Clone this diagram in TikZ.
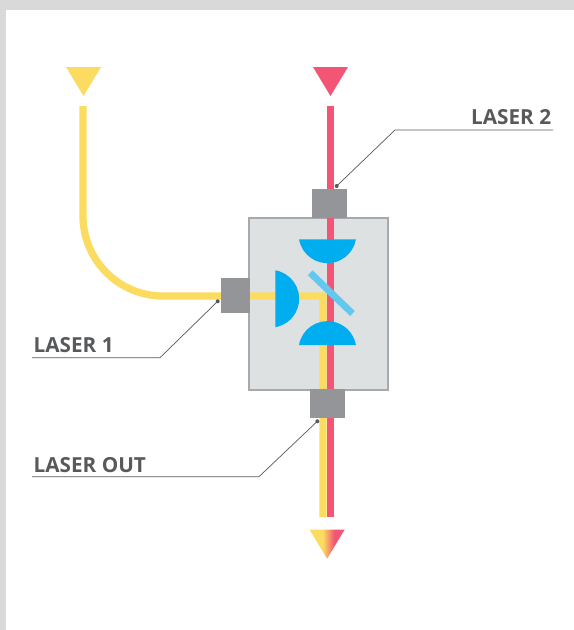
\documentclass[tikz,border=0pt]{standalone}
\usepackage{fontspec}
\setmainfont{Open Sans}
\usepackage{xcolor}
\usetikzlibrary{positioning, calc}

\definecolor{lasergold}{HTML}{FBDC60}
\definecolor{laserred}{HTML}{F25674}
\definecolor{lensblue}{HTML}{00AEEF}
\definecolor{mirrorblue}{HTML}{62C8EE}
\definecolor{portgray}{HTML}{939598}
\definecolor{boxgray}{HTML}{DEE1E2}
\definecolor{edgegray}{HTML}{A7A9AC}
\definecolor{leadgray}{HTML}{58595B}
\definecolor{pagegray}{HTML}{D9D9D9}

\pgfdeclarehorizontalshading{laserfade}{100bp}{color(0bp)=(lasergold); color(44bp)=(lasergold); color(60bp)=(laserred); color(100bp)=(laserred)}

\tikzset{
    beam/.style={line width=0.145cm},
    port/.style={fill=portgray, minimum width=0.7cm, minimum height=0.58cm, inner sep=0pt},
    lens/.style={fill=lensblue},
    leader/.style={draw=leadgray, line width=0.4pt},
    tag/.style={text=leadgray, font=\bfseries\fontsize{11.8}{14}\selectfont, inner sep=0pt},
    tip/.style={circle, fill=leadgray, minimum size=0.08cm, inner sep=0pt}
}

\begin{document}
\begin{tikzpicture}[x=0.02cm, y=-0.02cm]
    \useasboundingbox (0,0) rectangle (574,630);

    % Page edge
    \fill[pagegray] (0,0) rectangle (574,630);
    \fill[white] (6,10) rectangle (574,630);

    % Housing
    \draw[fill=boxgray, draw=edgegray, line width=0.034cm] (249,218) rectangle (388,390);

    % Beams
    \draw[beam, lasergold] (83,106) -- (83,216) arc[start angle=180, end angle=90, radius=80] -- (323,296) -- (323,517);
    \draw[beam, laserred] (330.2,106) -- (330.2,517);

    % Lenses
    \fill[lens] (299,239.3) arc[start angle=170, end angle=10, radius=28.9] -- cycle;
    \fill[lens] (299,345) arc[start angle=190, end angle=350, radius=28.9] -- cycle;
    \fill[lens] (275.3,270.3) arc[start angle=-80, end angle=80, radius=28.9] -- cycle;

    % Mirror
    \draw[mirrorblue, line width=0.136cm] (310.2,272.8) -- (352.5,313.5);

    % Ports
    \node[port] (porttop) at (329.5,203.5) {};
    \node[port, rotate=90] (portleft) at (235.5,295.5) {};
    \node[port] (portbottom) at (327.5,403.5) {};

    % Arrow heads
    \fill[lasergold] (66,67) -- (101,67) -- (83.5,96) -- cycle;
    \fill[laserred] (313,67) -- (348,67) -- (330.5,96) -- cycle;
    \shade[shading=laserfade] (309.5,529.5) -- (344.7,529.5) -- (327.1,558.7) -- cycle;

    % Labels
    \node[tag, anchor=base east] (labeltwo) at (551.5,124.5) {LASER 2};
    \node[tag, anchor=base west] (labelone) at (33.3,352.5) {LASER 1};
    \node[tag, anchor=base west] (labelout) at (33.3,472.5) {LASER OUT};

    % Leader lines
    \node[tip] (tiptwo) at (336.7,186) {};
    \node[tip] (tipone) at (217.7,301.3) {};
    \node[tip] (tipout) at (317.3,421.3) {};
    \coordinate (endtwo) at (553,130);
    \coordinate (endone) at (32,357.7);
    \coordinate (endout) at (32,476.7);
    \draw[leader] (tiptwo.center) -- (395,130) -- (endtwo);
    \draw[leader] (tipone.center) -- (160,357.7) -- (endone);
    \draw[leader] (tipout.center) -- (259,476.7) -- (endout);
\end{tikzpicture}
\end{document}
